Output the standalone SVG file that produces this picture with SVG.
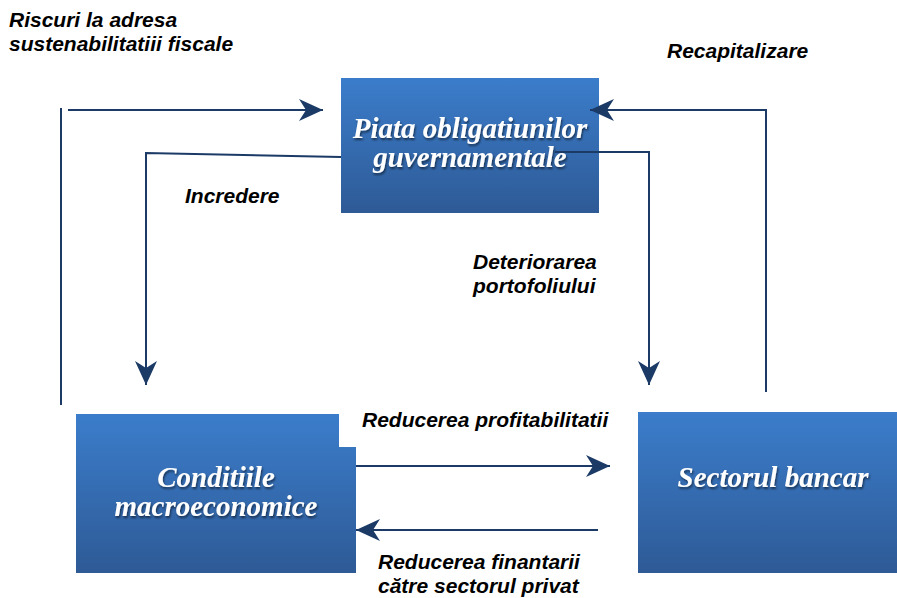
<svg xmlns="http://www.w3.org/2000/svg" width="897" height="598" viewBox="0 0 897 598">
<defs>
<linearGradient id="boxg" x1="0" y1="0" x2="0" y2="1">
<stop offset="0" stop-color="#3B7DCB"/>
<stop offset="1" stop-color="#2E5A96"/>
</linearGradient>
<filter id="ts" x="-10%" y="-30%" width="120%" height="160%">
<feGaussianBlur in="SourceAlpha" stdDeviation="1"/>
<feOffset dx="1" dy="1.5" result="o"/>
<feFlood flood-color="#000" flood-opacity="0.55"/>
<feComposite in2="o" operator="in"/>
<feMerge><feMergeNode/><feMergeNode in="SourceGraphic"/></feMerge>
</filter>
<marker id="ah" markerWidth="26" markerHeight="22" refX="24" refY="11" orient="auto" markerUnits="userSpaceOnUse">
<path d="M0,0 L24,11 L0,22 L7,11 Z" fill="#1B3A66"/>
</marker>
</defs>
<style>
.box{fill:url(#boxg);}
.bt{font-family:"Liberation Serif","Times New Roman",serif;font-weight:bold;font-style:italic;font-size:29px;fill:#fff;text-anchor:middle;}
.lbl{font-family:"Liberation Sans",Arial,sans-serif;font-weight:bold;font-style:italic;font-size:21px;fill:#000;}
.ln{fill:none;stroke:#1B3A66;stroke-width:2;}
.ar{marker-end:url(#ah);}
</style>
<rect width="897" height="598" fill="#fff"/>
<g id="node-piata">
<rect class="box" x="341" y="78" width="258" height="135"/>
<text class="bt" x="470" y="138" filter="url(#ts)">Piata obligatiunilor</text>
<text class="bt" x="470" y="167" filter="url(#ts)">guvernamentale</text>
</g>
<g id="node-conditiile">
<path class="box" d="M76,414 H339 V447 H356 V573 H76 Z"/>
<text class="bt" x="216" y="487" filter="url(#ts)">Conditiile</text>
<text class="bt" x="216" y="516" filter="url(#ts)">macroeconomice</text>
</g>
<g id="node-sectorul">
<rect class="box" x="638" y="412" width="259" height="161"/>
<text class="bt" x="773" y="487" filter="url(#ts)">Sectorul bancar</text>
</g>
<g id="connectors">
<line class="ln" x1="61" y1="108" x2="61" y2="405"/>
<line class="ln ar" x1="68" y1="110" x2="323" y2="110"/>
<polyline class="ln ar" points="341,157 146,153 146,385"/>
<polyline class="ln ar" points="555,152 649,152 649,385"/>
<polyline class="ln ar" points="766,392 766,110 590,110"/>
<line class="ln ar" x1="356" y1="466" x2="610" y2="466"/>
<line class="ln ar" x1="598" y1="530" x2="356" y2="530"/>
</g>
<g id="labels">
<text class="lbl" x="9" y="27">Riscuri la adresa</text>
<text class="lbl" x="9" y="51">sustenabilitatiii fiscale</text>
<text class="lbl" x="667" y="58">Recapitalizare</text>
<text class="lbl" x="185" y="203">Incredere</text>
<text class="lbl" x="473" y="269">Deteriorarea</text>
<text class="lbl" x="473" y="293">portofoliului</text>
<text class="lbl" x="362" y="427">Reducerea profitabilitatii</text>
<text class="lbl" x="378" y="569">Reducerea finantarii</text>
<text class="lbl" x="378" y="593">către sectorul privat</text>
</g>
</svg>
